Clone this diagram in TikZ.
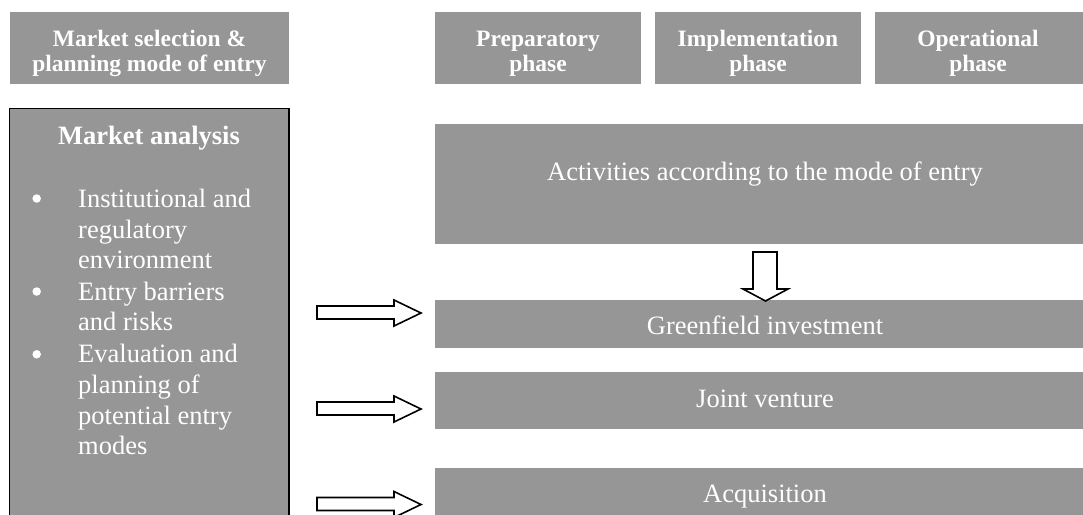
\documentclass[tikz,border=0pt]{standalone}
\usepackage{fontspec}
\setmainfont{Liberation Serif}
\definecolor{boxgray}{RGB}{150,150,150}
\begin{document}
\begin{tikzpicture}[x=1pt,y=-1pt,
  box/.style={fill=boxgray, draw=none, inner sep=0pt, outer sep=0pt, anchor=north west},
  hdtext/.style={text=white, font=\fontsize{23.5}{25}\bfseries\selectfont, align=center, inner sep=0pt, anchor=north},
  bodytext/.style={text=white, font=\fontsize{26.5}{30.7}\selectfont, inner sep=0pt},
  itemtext/.style={bodytext, align=left, anchor=north west},
  bulletdot/.style={circle, fill=white, draw=none, inner sep=0pt, minimum size=8.5pt},
  blockarrow/.style={draw=black, line width=1.6pt, fill=white, line join=miter}
]
\useasboundingbox (0,0) rectangle (1083,514);
\begin{scope}
\clip (0,0) rectangle (1083,514);
% header boxes
\node[box, minimum width=279pt, minimum height=72pt] (hsel) at (10,12) {};
\node[box, minimum width=206pt, minimum height=72pt] (hprep) at (435,12) {};
\node[box, minimum width=206pt, minimum height=72pt] (himpl) at (655,12) {};
\node[box, minimum width=210pt, minimum height=72pt] (hop) at (875,12) {};
\node[hdtext] (tsel) at (149.5,28.5) {\strut Market selection \&\\planning mode of entry};
\node[hdtext] (tprep) at (538,28.5) {\strut Preparatory\\phase};
\node[hdtext] (timpl) at (758,28.5) {\strut Implementation\\phase};
\node[hdtext] (top) at (978,28.5) {\strut Operational\\phase};
% market analysis box
\node[box, draw=black, line width=1.8pt, minimum width=279.5pt, minimum height=440pt] (ma) at (9.5,108.5) {};
\node[bodytext, font=\fontsize{26.5}{30.7}\bfseries\selectfont, anchor=base] (tma) at (149,144) {Market analysis};
\node[bulletdot] (b1) at (36.7,198.5) {};
\node[bulletdot] (b2) at (36.7,291.5) {};
\node[bulletdot] (b3) at (36.7,354.3) {};
\node[itemtext] (i1) at (78,185.8) {\strut Institutional and\\regulatory\\environment};
\node[itemtext] (i2) at (78,278.5) {\strut Entry barriers\\and risks};
\node[itemtext] (i3) at (78,341.2) {\strut Evaluation and\\planning of\\potential entry\\modes};
% right-hand boxes
\node[box, minimum width=660pt, minimum height=120pt] (act) at (435,124) {};
\node[box, minimum width=660pt, minimum height=48pt] (green) at (435,300) {};
\node[box, minimum width=660pt, minimum height=56.5pt] (jv) at (435,372) {};
\node[box, minimum width=660pt, minimum height=60pt] (acq) at (435,468) {};
\node[bodytext, anchor=base] (tact) at (765,180.7) {Activities according to the mode of entry};
\node[bodytext, anchor=base] (tgreen) at (765,334.3) {Greenfield investment};
\node[bodytext, anchor=base] (tjv) at (765,407.3) {Joint venture};
\node[bodytext, anchor=base] (tacq) at (765,502.3) {Acquisition};
% block arrows
\draw[blockarrow] (753,252) -- (777,252) -- (777,289) -- (788,289) -- (765.5,301)
  -- (743,289) -- (753,289) -- cycle;
\foreach \dy in {0,96,191.5}{
  \draw[blockarrow] (317,306+\dy) -- (394,306+\dy) -- (394,300+\dy) -- (421,313+\dy)
    -- (394,326+\dy) -- (394,319+\dy) -- (317,319+\dy) -- cycle;
}
\end{scope}
\end{tikzpicture}
\end{document}
